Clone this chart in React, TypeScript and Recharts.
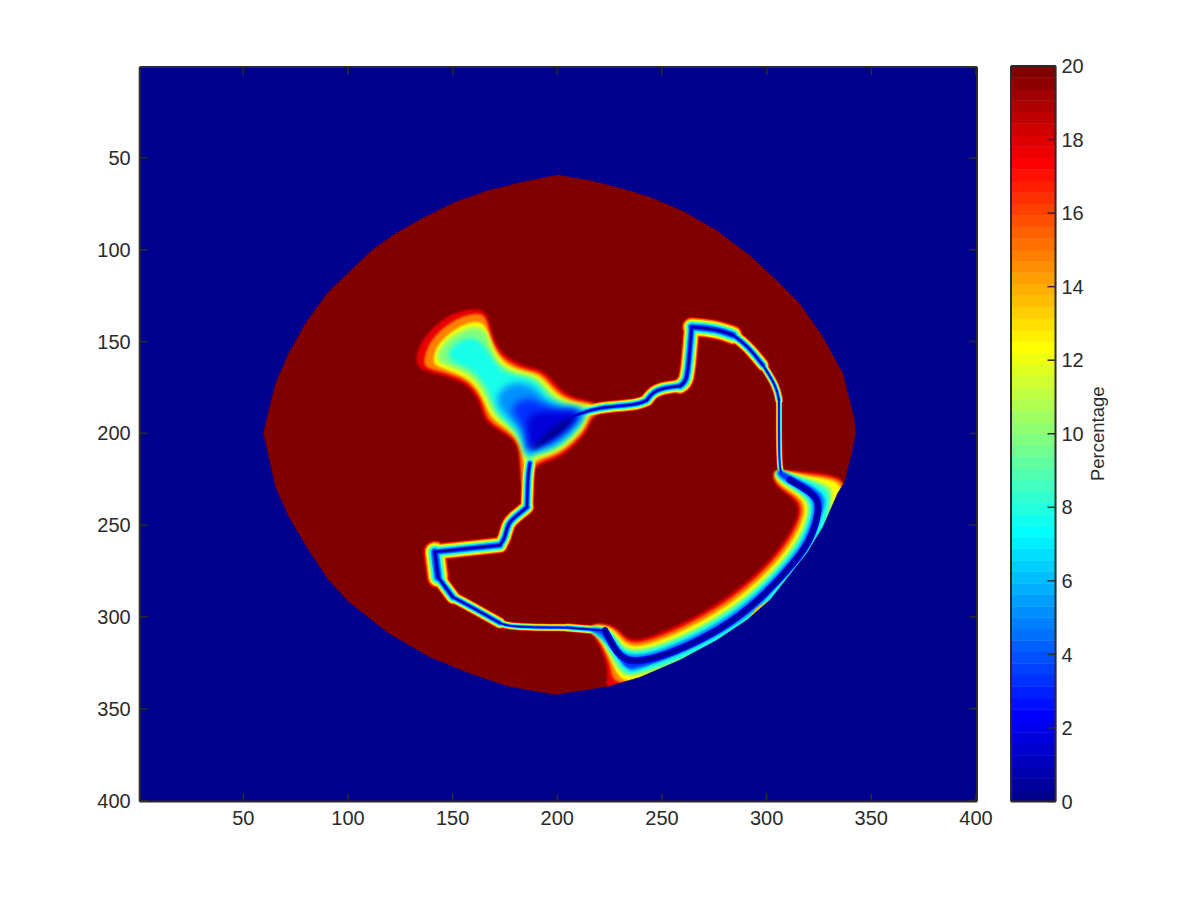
import { BarChart, Bar, ComposedChart, Label, Scatter, XAxis, YAxis } from 'recharts';

type Pair = number[];

const axisTicks = [50, 100, 150, 200, 250, 300, 350, 400];
const colorbarTicks = [0, 2, 4, 6, 8, 10, 12, 14, 16, 18, 20];

const frame: Pair[] = [[0.5, 0.5], [400.5, 0.5], [400.5, 400.5], [0.5, 400.5], [0.5, 0.5]];

const disc: Pair[] = [
  [201.3, 59.3], [215.6, 62], [231.5, 66.6], [244.3, 71.1], [260.2, 78.8], [276.1, 89.3], [292, 102.9], [304.8, 116.5],
  [315.9, 129.2], [327, 147.4], [336.6, 167.3], [342.2, 192.8], [342.7, 199.8], [340.8, 210.7], [337.4, 226.5],
  [334, 232.5], [326.9, 251], [319.3, 265.2], [301.6, 290.8], [290.6, 301.7], [276.3, 312.6], [258.6, 323.5],
  [239.5, 332.8], [223.8, 338.2], [198.9, 342.5], [176.6, 338], [157.5, 330.7], [138.4, 321.7], [119.3, 309],
  [100.1, 291.7], [90.6, 279.9], [81, 263.6], [71.5, 245.4], [65.2, 229.1], [61.2, 209.1], [59.5, 199.8],
  [61.2, 191], [65.2, 172.8], [71.5, 156.4], [79.5, 140.1], [89.8, 123.8], [98.8, 113.8], [111.3, 100.2],
  [122.5, 91.1], [135.2, 82.9], [151.1, 73.9], [167, 67.5], [183, 63], [198.9, 59.3],
];

// contours of the blob, outermost (about 18%) to the core (about 0%)
const blobLevels: Pair[][] = [
  [[132, 163], [133.6, 152.9], [139.2, 143.8], [147.1, 136.5], [155.1, 132.9], [163.9, 132], [167, 136.5], [169.4, 149.2], [174.2, 157.4], [183.7, 163.8], [193.3, 165.2], [198, 171.9], [206, 181], [220.4, 182.8], [220.4, 189.2], [216.4, 191.9], [214.8, 198.3], [209.2, 205.5], [201.3, 213.7], [191.7, 216.4], [187.7, 221], [187.7, 231], [182.2, 231], [182.2, 207.3], [177.4, 201.9], [167.8, 195.5], [164.6, 191], [163, 181.9], [156.7, 172.8], [147.1, 168.9], [137.6, 166.5]],
  [[136, 162.3], [137.6, 153.8], [142.4, 145.6], [149.5, 139.3], [156.7, 135.6], [164.6, 134.3], [166.6, 140.2], [168.6, 150.1], [173.4, 159.2], [183, 165.2], [192.5, 166.5], [197.3, 173.8], [205.2, 182.3], [220.4, 183.7], [220.4, 188.3], [215.6, 191], [214, 197.4], [208.4, 204.6], [200.5, 212.2], [190.9, 215.1], [187, 220], [186.1, 231], [182.6, 231], [183, 208.3], [178.5, 201], [168.6, 194.3], [165.9, 190.1], [163.9, 181], [157.5, 171.4], [147.9, 167.4], [138.4, 164.7]],
  [[140.8, 161], [141.6, 154.7], [145.5, 148.3], [151.9, 142.9], [158.3, 139.3], [165.4, 139.3], [167.8, 149.2], [172.6, 161], [182.2, 166.5], [191.7, 167.8], [196.5, 175.6], [204.5, 183.4], [218.8, 184.7], [218.8, 187.4], [214.8, 189.6], [213.2, 196.5], [207.6, 203.7], [199.7, 211], [190.1, 213.7], [186.1, 218.2], [184.1, 218.2], [183.7, 208.3], [179.8, 200.1], [170.2, 193.2], [167, 188.3], [164.6, 180.1], [158.3, 170.1], [148.7, 166.1], [141.6, 162.9]],
  [[142.5, 159.8], [143.5, 154.5], [147.5, 149], [153.5, 144.5], [160, 141.5], [166, 143.5], [167.8, 152], [171.8, 162.9], [181.4, 167.4], [190.9, 168.9], [195.7, 177.4], [203.6, 184.1], [217.2, 185.5], [214, 187.7], [212.4, 195.5], [206.8, 202.8], [198.9, 210], [189.3, 212.4], [186.1, 216.4], [184.5, 212.8], [180.6, 199.2], [171, 191.9], [168.1, 186.4], [165.4, 178.3], [159, 168.3], [150.3, 164.1], [144.7, 162]],
  [[147, 157], [152, 150], [160, 147], [166, 153], [171.8, 165.6], [180.6, 168.9], [190.1, 170.7], [194.9, 180.1], [202.9, 185.2], [215.6, 186.1], [211.6, 194.6], [206, 201.9], [198.1, 208.8], [188.5, 211], [186.1, 214.6], [184.5, 209.2], [181.4, 198.3], [171.8, 190.1], [169.4, 183.8], [165.4, 172.8], [159, 164.7], [150, 161.5]],
  [[172.6, 176.5], [179, 171.9], [188.5, 173.8], [193.3, 181.9], [201.3, 185.9], [214, 186.6], [210.8, 193.7], [205.2, 201], [197.3, 207.7], [187.7, 209.5], [186.1, 212.8], [185, 207.3], [181.8, 196.5], [173.4, 188.3], [171, 181.9]],
  [[179, 183.7], [186.9, 180.1], [193.3, 184.6], [201.3, 187.4], [212.4, 187], [209.2, 193.7], [203.6, 200], [195.7, 206.4], [187.7, 207.3], [186.3, 211], [185.7, 203.7], [183, 194.6], [178.2, 189.2]],
  [[185.3, 191], [191.7, 188.3], [201.3, 188.8], [211.6, 187.4], [207.6, 193.7], [201.3, 200], [193.3, 205.5], [187.7, 207.3], [186.6, 209.2], [186.1, 200.1]],
  [[193.3, 201.9], [199.7, 195.5], [209.2, 190.1], [207.6, 191.9], [202.9, 199.2], [194.9, 204.6], [188.5, 209.2], [187.7, 208.3]],
];

// contours of the wide wedge along the lower right rim, same order as the blob
const wedgeLevels: Pair[][] = [
  [[215.6, 303.2], [226.7, 303.9], [231.5, 309.9], [236.3, 313.5], [247.4, 309.9], [263.4, 301.7], [279.3, 290.8], [292, 279.9], [303.2, 267.2], [311.1, 254.5], [315.9, 243.6], [314.3, 236.3], [306.3, 230.9], [302.8, 225.4], [303.2, 220], [307.1, 220], [319.1, 220.9], [338.2, 223.1], [336, 234], [329, 252], [321, 267], [303.5, 292.5], [292, 303.5], [277.5, 314.5], [260, 325.5], [240.5, 335], [224, 340], [223.6, 336.2], [224.4, 327.1], [220.4, 316.2], [217.2, 309.9], [215.6, 309]],
  [[215.6, 303.7], [226.1, 304.4], [230.8, 310.8], [235.7, 315.3], [247.4, 311.8], [263.4, 303.7], [279.8, 292.8], [293.2, 281], [304.9, 267.5], [312.7, 254.9], [317.3, 243.2], [315.7, 235.9], [307, 230.1], [303.2, 224.9], [303.7, 220], [308, 220.5], [319, 222.3], [338, 224.5], [336, 234], [329, 252], [321, 267], [303.5, 292.5], [292, 303.5], [277.5, 314.5], [260, 325.5], [240.5, 335], [231, 336.5], [226, 334], [225.8, 327], [221.8, 316], [218, 309.5], [215.6, 308.6]],
  [[215.6, 304.4], [225.5, 305], [230, 311.9], [235, 317.3], [247.4, 314], [263.4, 306], [280.3, 295], [294.6, 282.2], [306.8, 267.8], [314.4, 255.4], [318.9, 242.7], [317.4, 235.4], [307.8, 229.1], [303.7, 224.2], [304.2, 220], [308.2, 220.5], [319, 223.5], [336, 226], [335.5, 234], [328.5, 252], [321, 267], [303.5, 292.5], [292, 303.5], [277.5, 314.5], [260, 325.5], [240.5, 335], [232, 335], [228.5, 331], [227, 326.5], [222.5, 316], [218.6, 309.5], [215.6, 308.2]],
  [[215.6, 304.9], [224.9, 305.6], [229.2, 312.9], [234.4, 319], [247.4, 315.9], [263.4, 308.1], [280.8, 297], [295.8, 283.3], [308.4, 268], [316, 255.8], [320.4, 242.3], [318.8, 235], [308.6, 228.3], [304.1, 223.7], [304.7, 220], [308.2, 220.5], [318.5, 224.5], [332, 228.5], [331, 236], [329, 252], [321, 267], [303.5, 292.5], [292, 303.5], [277.5, 314.5], [259, 324.8], [239, 331.5], [233, 332.5], [229.7, 329.5], [227.5, 326], [223, 316], [219.5, 310], [215.6, 308]],
  [[215.6, 305.4], [224.4, 306.1], [228.6, 313.7], [233.9, 320.6], [247.4, 317.5], [263.4, 309.9], [281.2, 298.7], [296.8, 284.3], [309.9, 268.3], [317.3, 256.1], [321.6, 242], [320, 234.7], [309.2, 227.6], [304.4, 223.2], [305.1, 220], [307.5, 221], [318, 225], [330, 230.5], [329.5, 238], [328, 250], [320.5, 266.5], [303, 292], [291.5, 303], [277, 314], [258, 323], [238.5, 330.5], [234, 331], [231, 328.5], [229, 325], [224, 316], [220, 310.5], [215.6, 307.8]],
  [[215.6, 305.8], [223.9, 306.5], [228, 314.5], [233.4, 322.1], [247.4, 319.2], [263.4, 311.6], [281.6, 300.4], [297.8, 285.2], [311.3, 268.5], [318.7, 256.5], [322.8, 241.6], [321.3, 234.3], [309.8, 226.9], [304.8, 222.8], [305.5, 220], [307, 221], [316, 225.5], [328, 232.5], [328, 240], [324.5, 249], [316.5, 262], [301, 290.5], [289.5, 301], [275, 311.5], [256, 320.5], [238, 329], [235, 329.5], [232, 327], [230, 324], [225, 316], [220, 310], [215.6, 307.4]],
  [[215.6, 306.3], [223.3, 307], [227.3, 315.4], [232.8, 323.8], [247.4, 321], [263.4, 313.5], [282.1, 302.2], [299, 286.3], [312.9, 268.8], [320.1, 256.8], [324.2, 241.3], [322.6, 234], [310.5, 226.1], [305.1, 222.3], [305.9, 220], [306.8, 220.5], [313, 224.5], [326.5, 232.5], [326.5, 241.5], [323, 257], [315.5, 270], [301, 288], [284, 304.5], [265, 317], [248, 324.5], [236, 328], [233.5, 327.5], [231, 325], [227.5, 317], [223, 309], [215.6, 307]],
];

const wedgeCore: Pair[] = [
  [222.8, 307.5], [226.7, 316.2], [232.3, 325.3], [247.4, 322.6], [263.4, 315.3], [282.5, 303.9],
  [300, 287.2], [314.3, 269], [321.5, 257.2], [325.4, 240.9], [323.9, 233.6], [311.1, 225.4],
];

const rimPatch: Pair[] = [[292, 299.9], [295.2, 295.4], [299.2, 292.3], [300.8, 291.7], [296.8, 294.8], [293.6, 299]];

// thin channels, cut where their width changes
const channelPaths: Pair[][] = [
  [[208, 190.5], [219, 185.7], [238.5, 184.6], [242.8, 181.9]],
  [[242.8, 181.9], [245.7, 177.5], [250.5, 175.3], [258.6, 174.2]],
  [[258.6, 174.2], [261.8, 171.9], [262.9, 160], [264.2, 142.1]],
  [[264.2, 142.1], [276.1, 143.2], [283.9, 146.5]],
  [[283.9, 146.5], [290.5, 151.9], [298.2, 162.8]],
  [[298.2, 162.8], [304.8, 174.6], [305.9, 181.9]],
  [[305.9, 181.9], [305.9, 218.4], [307.2, 221.6]],
  [[186.9, 216.2], [186, 221.6], [185.5, 240.2]],
  [[185.5, 240.2], [179.8, 245.6], [176.4, 248.9], [175, 257.1], [172.6, 260.9]],
  [[172.6, 260.9], [141.5, 264.6]],
  [[141.5, 264.6], [143, 278.3]],
  [[143, 278.3], [150.1, 289.2]],
  [[150.1, 289.2], [161.6, 296.2], [172.6, 303.3]],
  [[172.6, 303.3], [177.4, 305.5], [205, 305.8]],
  [[205, 305.8], [222.8, 307.5]],
];

const channelWidths = [13, 14, 17, 20, 13, 8.5, 6.5, 14, 15, 17, 23, 15, 12, 8, 9];
const levelColors = ['#e80000', '#ff8000', '#ffff00', '#80ff80', '#18ffe8', '#0090ff', '#0030ff', '#0000d8', '#00008f'];
const levelWidths = [1, 0.88, 0.76, 0.62, 0.5, 0.36, 0.24, 0.13, 0.07];
const blobBlur = [0.8, 0.8, 0.8, 2.2, 2.2, 3.5, 3.5, 3.5, 2.2];

const jetColors = [
  '#00008f', '#00009f', '#0000af', '#0000bf', '#0000cf', '#0000df', '#0000ef', '#0000ff',
  '#0010ff', '#0020ff', '#0030ff', '#0040ff', '#0050ff', '#0060ff', '#0070ff', '#0080ff',
  '#008fff', '#009fff', '#00afff', '#00bfff', '#00cfff', '#00dfff', '#00efff', '#00ffff',
  '#10ffef', '#20ffdf', '#30ffcf', '#40ffbf', '#50ffaf', '#60ff9f', '#70ff8f', '#80ff80',
  '#8fff70', '#9fff60', '#afff50', '#bfff40', '#cfff30', '#dfff20', '#efff10', '#ffff00',
  '#ffef00', '#ffdf00', '#ffcf00', '#ffbf00', '#ffaf00', '#ff9f00', '#ff8f00', '#ff8000',
  '#ff7000', '#ff6000', '#ff5000', '#ff4000', '#ff3000', '#ff2000', '#ff1000', '#ff0000',
  '#ef0000', '#df0000', '#cf0000', '#bf0000', '#af0000', '#9f0000', '#8f0000', '#800000',
];

const ink = '#2b2b2b';
const font = '"Liberation Sans", Arial, sans-serif';
const tickStyle = { fontSize: 20, fontFamily: font, fill: ink };
const axisLine = { stroke: ink, strokeWidth: 2 };
const tickLine = { stroke: ink, strokeWidth: 1.5 };
const range = [0.5, 400.5];

const toPoints = (pairs: Pair[]) => pairs.map(([x, y]) => ({ x, y }));
const noMark = () => <g />;
const anchor = toPoints([[0.5, 0.5], [400.5, 400.5]]);
const barAnchor = [{ x: 0, y: 0 }, { x: 1, y: 20 }];

function area(key: string, pairs: Pair[], color: string, joint = 'linear', blur = 0) {
  return (
    <Scatter
      key={key}
      data={toPoints(pairs)}
      shape={noMark}
      isAnimationActive={false}
      lineType="joint"
      lineJointType={joint as 'linear'}
      line={{ stroke: color, fill: color, strokeWidth: 0.5, style: blur ? { filter: `blur(${blur}px)` } : undefined }}
    />
  );
}

function stroke(key: string, pairs: Pair[], color: string, width: number) {
  return (
    <Scatter
      key={key}
      data={toPoints(pairs)}
      shape={noMark}
      isAnimationActive={false}
      lineType="joint"
      lineJointType="basis"
      line={{ stroke: color, strokeWidth: width, fill: 'none', strokeLinecap: 'round', strokeLinejoin: 'round' }}
    />
  );
}

const barRow = [Object.fromEntries(jetColors.map((_, i) => [`band${i}`, 20 / 64]))];

export default function App() {
  const layers = levelColors.flatMap((color, i) => [
    ...channelPaths.map((path, j) => stroke(`ch-${i}-${j}`, path, color, channelWidths[j] * levelWidths[i])),
    blobLevels[i] ? area(`blob-${i}`, blobLevels[i], color, 'basisClosed', blobBlur[i]) : null,
    wedgeLevels[i] ? area(`wedge-${i}`, wedgeLevels[i], color, 'basisClosed', 0.8) : stroke(`core-${i}`, wedgeCore, color, i === 7 ? 7 : 3),
  ]);

  return (
    <div style={{ position: 'absolute', left: 0, top: 0, width: 1200, height: 900, background: '#fff' }}>
      <div style={{ position: 'absolute', left: 0, top: 0 }}>
        <ComposedChart width={1200} height={900} margin={{ top: 67, right: 223, bottom: 68.5, left: 0 }}>
          {area('frame', frame, '#00008f')}
          {area('disc', disc, '#800000')}
          {layers}
          {area('patch', rimPatch, '#ffbf00')}
          {/* everything outside the disc again, so the blurred wedge keeps a hard rim */}
          {area('outside', [...frame, ...[...disc].reverse()], '#00008f')}
          <XAxis dataKey="x" type="number" domain={range} ticks={axisTicks} interval={0} height={30} tick={tickStyle} tickSize={-8} tickMargin={17} axisLine={false} tickLine={false} allowDataOverflow />
          <YAxis dataKey="y" type="number" reversed domain={range} ticks={axisTicks} interval={0} width={139.7} tick={tickStyle} tickSize={-8} tickMargin={17} axisLine={false} tickLine={false} allowDataOverflow />
        </ComposedChart>
      </div>
      {/* box and inward ticks sit above the image */}
      <div style={{ position: 'absolute', left: 0, top: 0 }}>
        <ComposedChart width={1200} height={900} margin={{ top: 66, right: 0, bottom: 97.5, left: 0 }}>
          <Scatter data={anchor} shape={noMark} isAnimationActive={false} />
          <Scatter xAxisId="top" yAxisId="right" data={anchor} shape={noMark} isAnimationActive={false} />
          <XAxis dataKey="x" type="number" domain={range} ticks={axisTicks} interval={0} height={1} tick={noMark} tickSize={-8} axisLine={axisLine} tickLine={tickLine} />
          <XAxis xAxisId="top" dataKey="x" orientation="top" type="number" domain={range} ticks={axisTicks} interval={0} height={1} tick={noMark} tickSize={-8} axisLine={axisLine} tickLine={tickLine} />
          <YAxis dataKey="y" type="number" reversed domain={range} ticks={axisTicks} interval={0} width={139.7} tick={noMark} tickSize={-8} axisLine={axisLine} tickLine={tickLine} />
          <YAxis yAxisId="right" dataKey="y" orientation="right" type="number" reversed domain={range} ticks={axisTicks} interval={0} width={223} tick={noMark} tickSize={-8} axisLine={axisLine} tickLine={tickLine} />
        </ComposedChart>
      </div>
      <div style={{ position: 'absolute', left: 960, top: 0 }}>
        <BarChart width={240} height={900} data={barRow} barCategoryGap={0} margin={{ top: 66, right: 0, bottom: 98.5, left: 51 }}>
          {jetColors.map((color, i) => (
            <Bar key={color} dataKey={`band${i}`} stackId="bar" fill={color} stroke={color} strokeWidth={0.5} isAnimationActive={false} />
          ))}
          <XAxis hide />
          <YAxis orientation="right" type="number" domain={[0, 20]} ticks={colorbarTicks} interval={0} width={144.5} tick={tickStyle} tickSize={-8} tickMargin={14} axisLine={false} tickLine={false}>
            <Label value="Percentage" angle={-90} position="center" dx={-30} style={{ fontSize: 18.5, fontFamily: font, fill: ink }} />
          </YAxis>
        </BarChart>
      </div>
      <div style={{ position: 'absolute', left: 960, top: 0 }}>
        <ComposedChart width={240} height={900} margin={{ top: 65, right: 0, bottom: 97.5, left: 50 }}>
          <Scatter data={barAnchor} shape={noMark} isAnimationActive={false} />
          <Scatter xAxisId="top" yAxisId="right" data={barAnchor} shape={noMark} isAnimationActive={false} />
          <XAxis dataKey="x" type="number" domain={[0, 1]} ticks={[]} height={1} tick={noMark} tickLine={false} axisLine={axisLine} />
          <XAxis xAxisId="top" dataKey="x" orientation="top" type="number" domain={[0, 1]} ticks={[]} height={1} tick={noMark} tickLine={false} axisLine={axisLine} />
          <YAxis dataKey="y" type="number" domain={[0, 20]} ticks={[]} width={1} tick={noMark} tickLine={false} axisLine={axisLine} />
          <YAxis yAxisId="right" dataKey="y" orientation="right" type="number" domain={[0, 20]} ticks={colorbarTicks} interval={0} width={144.5} tick={noMark} tickSize={-8} axisLine={axisLine} tickLine={tickLine} />
        </ComposedChart>
      </div>
    </div>
  );
}
